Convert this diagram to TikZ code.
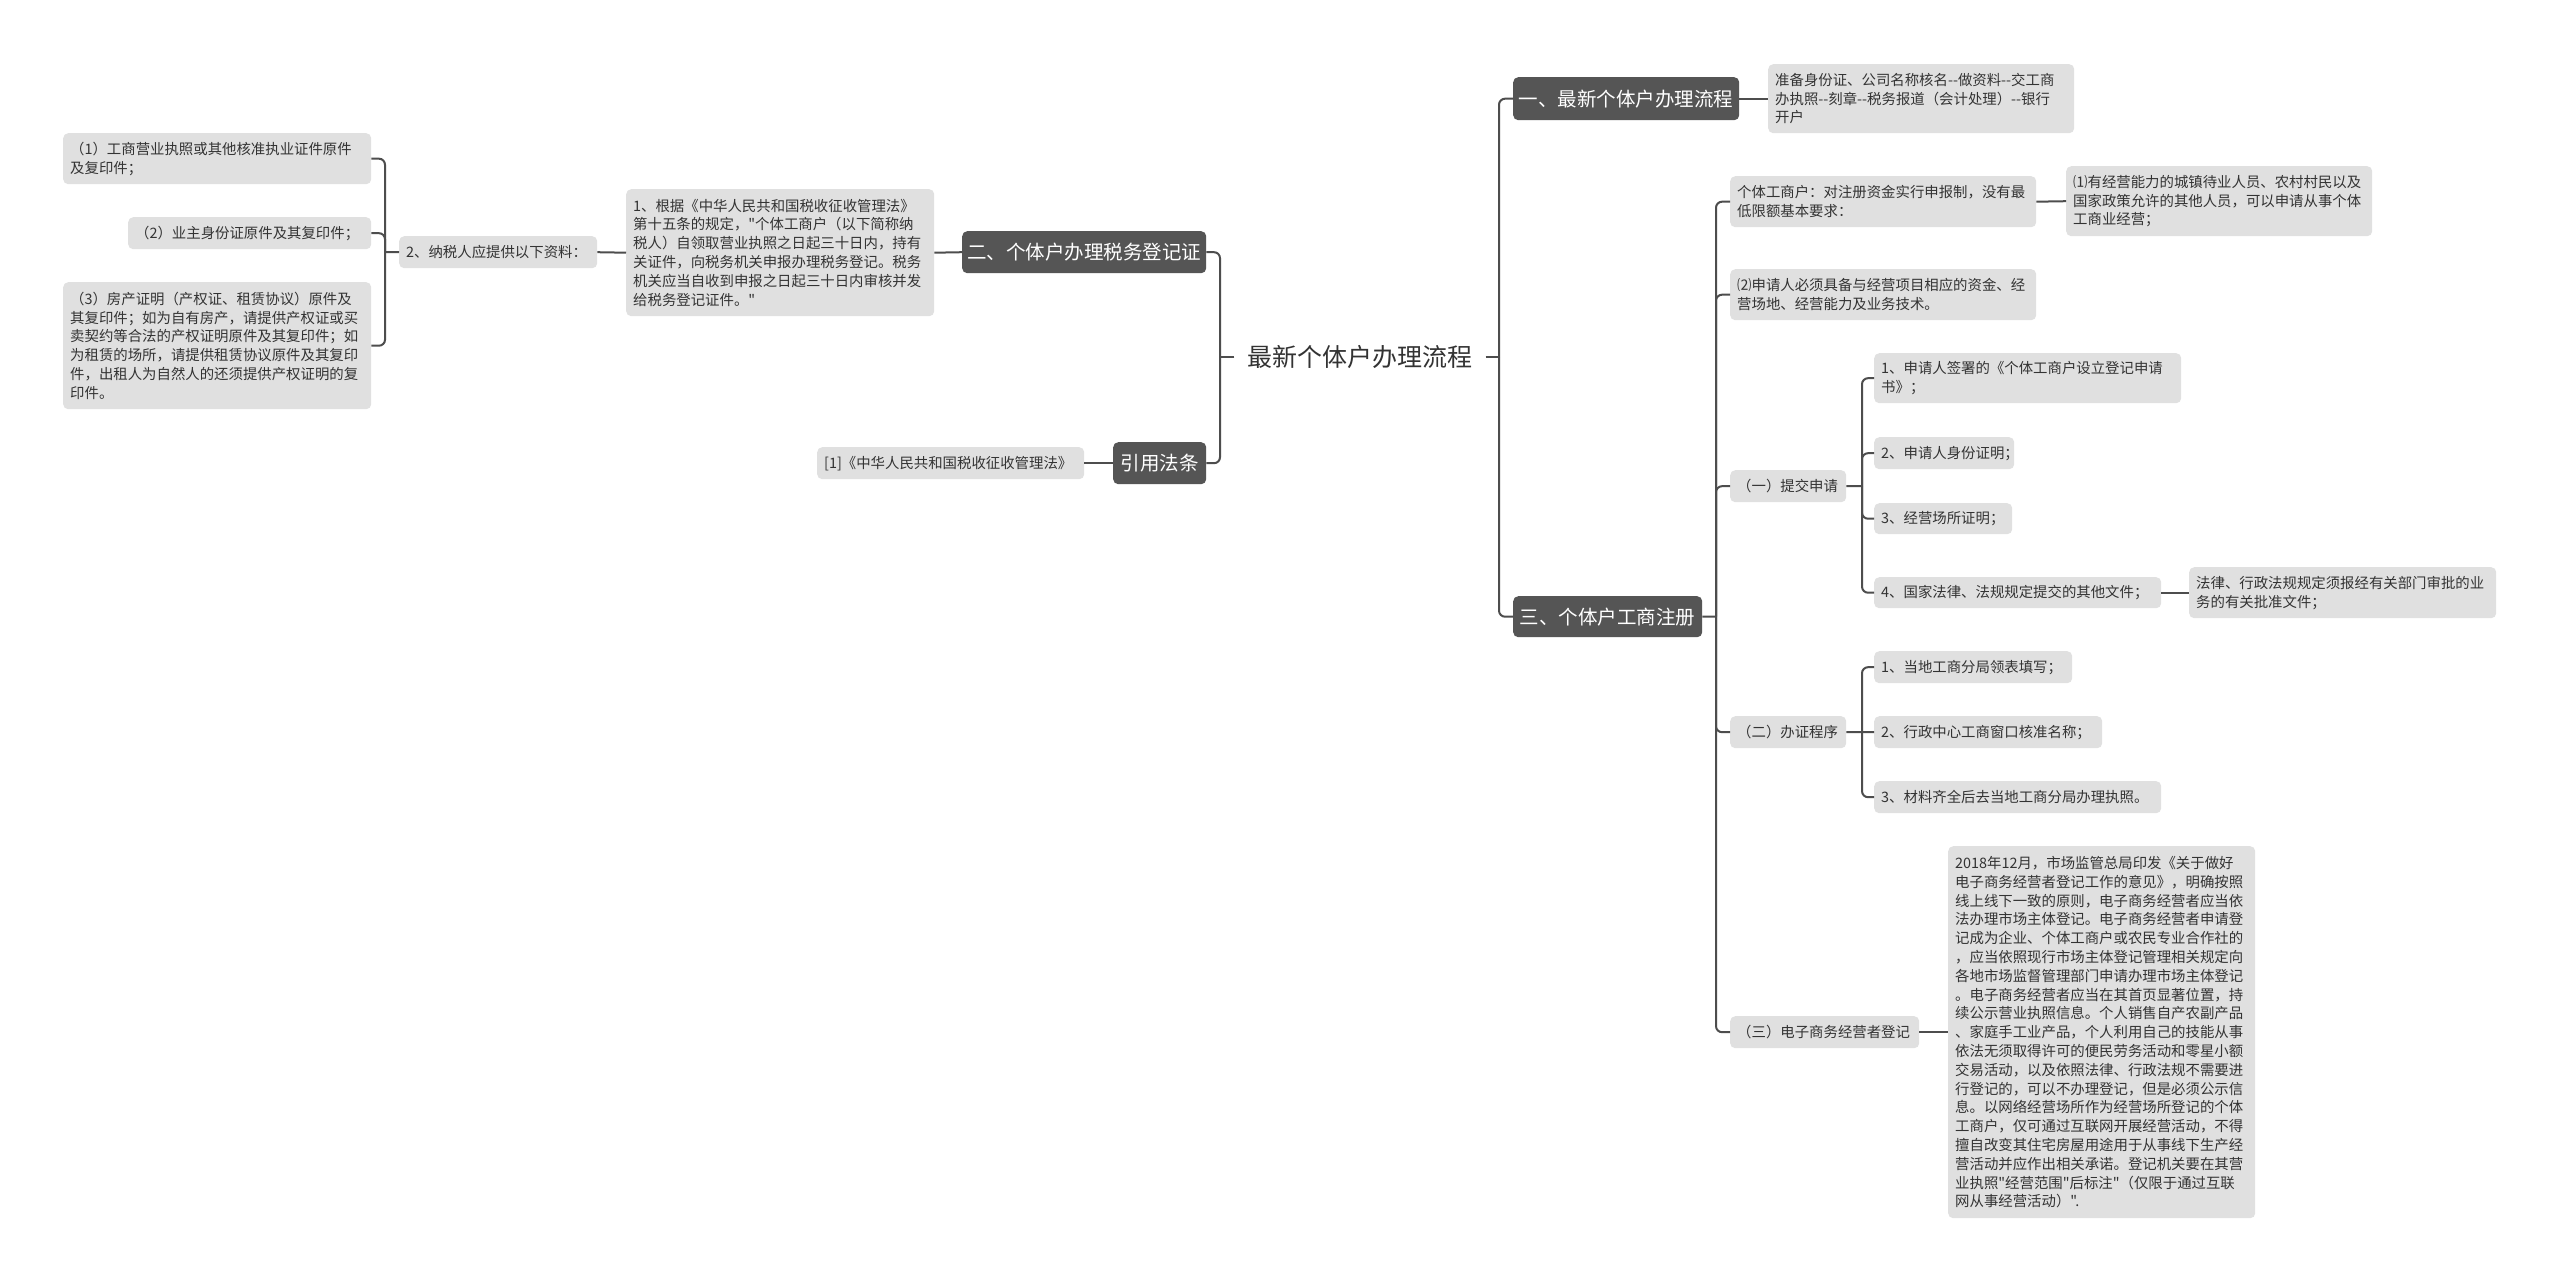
\documentclass[tikz,border=0pt]{standalone}
\usepackage{fontspec}
\setmainfont{Noto Sans CJK SC}[Ligatures=TeXOff]
\definecolor{boxgray}{HTML}{E0E0E0}
\definecolor{darkbox}{HTML}{555555}
\definecolor{linec}{HTML}{4D4D4D}
\definecolor{txt}{HTML}{333333}
\newcommand\dd{-\kern0pt-}
\tikzset{
  leaf/.style={fill=boxgray, rounded corners=5pt, text=txt,
    font=\fontsize{14.4}{18.8}\selectfont, align=left,
    inner xsep=7pt, inner ysep=0pt, anchor=north west},
  topic/.style={fill=darkbox, rounded corners=5pt, text=white,
    font=\fontsize{19.5}{24}\selectfont, inner sep=0pt,
    anchor=north west, align=center},
  rootnode/.style={text=txt, font=\fontsize{25}{30}\selectfont, inner xsep=13pt, inner ysep=2pt},
  conn/.style={draw=linec, line width=2pt, rounded corners=6pt},
}
\begin{document}
\begin{tikzpicture}[x=1pt,y=-1pt]
\fill[white] (0,0) rectangle (2560,1282);
\useasboundingbox (0,0) rectangle (2560,1282);

% root
\node[rootnode] (root) at (1360,357) {最新个体户办理流程};

% ---------- left side ----------
\node[topic, minimum width=244pt, minimum height=42pt] (two) at (962,231) {二、个体户办理税务登记证};
\node[topic, minimum width=93pt, minimum height=42pt] (cite) at (1113,442) {引用法条};

\node[leaf, text width=294pt, minimum height=127pt] (L5) at (626,189)
  {1、根据《中华人民共和国税收征收管理法》\\第十五条的规定，"个体工商户（以下简称纳\\税人）自领取营业执照之日起三十日内，持有\\关证件，向税务机关申报办理税务登记。税务\\机关应当自收到申报之日起三十日内审核并发\\给税务登记证件。"};
\node[leaf, text width=184pt, minimum height=32pt] (L4) at (399,236) {2、纳税人应提供以下资料：};
\node[leaf, text width=294pt, minimum height=51pt] (L1) at (63,133)
  {（1）工商营业执照或其他核准执业证件原件\\及复印件；};
\node[leaf, text width=229pt, minimum height=32pt] (L2) at (128,217) {（2）业主身份证原件及其复印件；};
\node[leaf, text width=294pt, minimum height=127pt] (L3) at (63,282)
  {（3）房产证明（产权证、租赁协议）原件及\\其复印件；如为自有房产，请提供产权证或买\\卖契约等合法的产权证明原件及其复印件；如\\为租赁的场所，请提供租赁协议原件及其复印\\件，出租人为自然人的还须提供产权证明的复\\印件。};
\node[leaf, text width=253pt, minimum height=32pt] (ref) at (817,447) {[1]《中华人民共和国税收征收管理法》};

% ---------- right side ----------
\node[topic, minimum width=226pt, minimum height=43pt] (one) at (1513,77) {一、最新个体户办理流程};
\node[leaf, text width=292pt, minimum height=69pt] (oneA) at (1768,64)
  {准备身份证、公司名称核名\dd 做资料\dd 交工商\\办执照\dd 刻章\dd 税务报道（会计处理）\dd 银行\\开户};
\node[topic, minimum width=189pt, minimum height=41pt] (three) at (1513,596) {三、个体户工商注册};

\node[leaf, text width=292pt, minimum height=51pt] (gt) at (1730,176)
  {个体工商户：对注册资金实行申报制，没有最\\低限额基本要求：};
\node[leaf, text width=292pt, minimum height=70pt] (gtA) at (2066,166)
  {⑴有经营能力的城镇待业人员、农村村民以及\\国家政策允许的其他人员，可以申请从事个体\\工商业经营；};
\node[leaf, text width=292pt, minimum height=51pt] (req) at (1730,269)
  {⑵申请人必须具备与经营项目相应的资金、经\\营场地、经营能力及业务技术。};

\node[leaf, text width=102pt, minimum height=32pt] (sub) at (1730,470) {（一）提交申请};
\node[leaf, text width=293pt, minimum height=50pt] (c1) at (1874,353)
  {1、申请人签署的《个体工商户设立登记申请\\书》；};
\node[leaf, text width=126pt, minimum height=32pt] (c2) at (1874,437) {2、申请人身份证明；};
\node[leaf, text width=124pt, minimum height=31pt] (c3) at (1874,503) {3、经营场所证明；};
\node[leaf, text width=273pt, minimum height=31pt] (c4) at (1874,577) {4、国家法律、法规规定提交的其他文件；};
\node[leaf, text width=293pt, minimum height=51pt] (c4A) at (2189,567)
  {法律、行政法规规定须报经有关部门审批的业\\务的有关批准文件；};

\node[leaf, text width=102pt, minimum height=32pt] (proc) at (1730,716) {（二）办证程序};
\node[leaf, text width=184pt, minimum height=32pt] (d1) at (1874,651) {1、当地工商分局领表填写；};
\node[leaf, text width=214pt, minimum height=32pt] (d2) at (1874,716) {2、行政中心工商窗口核准名称；};
\node[leaf, text width=273pt, minimum height=32pt] (d3) at (1874,781) {3、材料齐全后去当地工商分局办理执照。};

\node[leaf, text width=175pt, minimum height=32pt] (ec) at (1730,1016) {（三）电子商务经营者登记};
\node[leaf, text width=293pt, minimum height=372pt] (ecA) at (1948,846)
  {2018年12月，市场监管总局印发《关于做好\\电子商务经营者登记工作的意见》，明确按照\\线上线下一致的原则，电子商务经营者应当依\\法办理市场主体登记。电子商务经营者申请登\\记成为企业、个体工商户或农民专业合作社的\\，应当依照现行市场主体登记管理相关规定向\\各地市场监督管理部门申请办理市场主体登记\\。电子商务经营者应当在其首页显著位置，持\\续公示营业执照信息。个人销售自产农副产品\\、家庭手工业产品，个人利用自己的技能从事\\依法无须取得许可的便民劳务活动和零星小额\\交易活动，以及依照法律、行政法规不需要进\\行登记的，可以不办理登记，但是必须公示信\\息。以网络经营场所作为经营场所登记的个体\\工商户，仅可通过互联网开展经营活动，不得\\擅自改变其住宅房屋用途用于从事线下生产经\\营活动并应作出相关承诺。登记机关要在其营\\业执照"经营范围"后标注"（仅限于通过互联\\网从事经营活动）".};

% ---------- connectors ----------
\coordinate (jL0) at (1220,357);
\draw[conn] (root.west) -- (jL0);
\draw[conn] (jL0) |- (two.east);
\draw[conn] (jL0) |- (cite.east);
\draw[conn] (two.west) -- (L5.east);
\draw[conn] (L5.west) -- (L4.east);
\coordinate (jL1) at (385,252);
\draw[conn] (L4.west) -- (jL1);
\draw[conn] (jL1) |- (L1.east);
\draw[conn] (jL1) |- (L2.east);
\draw[conn] (jL1) |- (L3.east);
\draw[conn] (cite.west) -- (ref.east);

\coordinate (jR0) at (1499,357);
\draw[conn] (root.east) -- (jR0);
\draw[conn] (jR0) |- (one.west);
\draw[conn] (jR0) |- (three.west);
\draw[conn] (one.east) -- (oneA.west);

\coordinate (jR1) at (1716,616.5);
\draw[conn] (three.east) -- (jR1);
\draw[conn] (jR1) |- (gt.west);
\draw[conn] (jR1) |- (req.west);
\draw[conn] (jR1) |- (sub.west);
\draw[conn] (jR1) |- (proc.west);
\draw[conn] (jR1) |- (ec.west);
\draw[conn] (gt.east) -- (gtA.west);

\coordinate (jS) at (1862,486);
\draw[conn] (sub.east) -- (jS);
\draw[conn] (jS) |- (c1.west);
\draw[conn] (jS) |- (c2.west);
\draw[conn] (jS) |- (c3.west);
\draw[conn] (jS) |- (c4.west);
\draw[conn] (c4.east) -- (c4A.west);

\coordinate (jP) at (1862,732);
\draw[conn] (proc.east) -- (jP);
\draw[conn] (jP) |- (d1.west);
\draw[conn] (jP) -- (d2.west);
\draw[conn] (jP) |- (d3.west);

\draw[conn] (ec.east) -- (ecA.west);
\end{tikzpicture}
\end{document}
